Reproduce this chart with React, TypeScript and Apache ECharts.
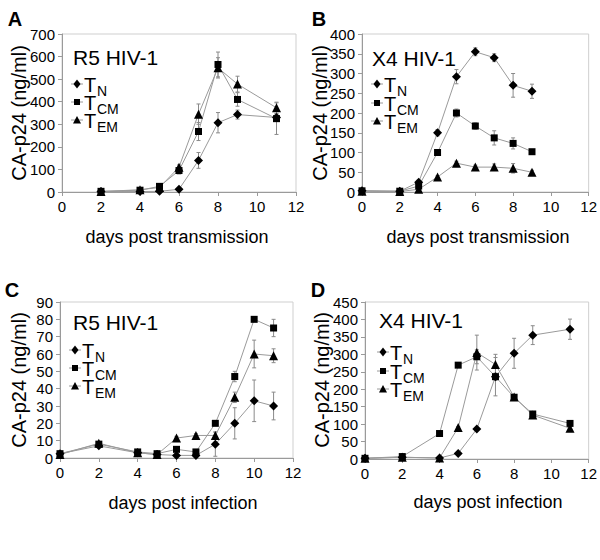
import React, { useEffect, useRef } from "react";
import * as echarts from "echarts";

const FONT = "'Liberation Sans', Arial, sans-serif";

// Panel A: R5 HIV-1, days post transmission
const A_DAYS = [2, 4, 5, 6, 7, 8, 9, 11];
const A_TN = [2, 2, 3, 12, 140, 307, 343, 330];
const A_TN_ERR = [0, 0, 0, 5, 35, 45, 20, 15];
const A_TCM = [3, 8, 25, 95, 268, 565, 410, 325];
const A_TCM_ERR = [0, 5, 10, 15, 40, 55, 30, 70];
const A_TEM = [2, 10, 20, 110, 345, 550, 478, 373];
const A_TEM_ERR = [0, 0, 5, 10, 45, 45, 35, 25];

// Panel B: X4 HIV-1, days post transmission
const B_DAYS = [0, 2, 3, 4, 5, 6, 7, 8, 9];
const B_TN = [3, 2, 25, 150, 292, 355, 340, 270, 255];
const B_TN_ERR = [0, 0, 5, 8, 18, 10, 10, 30, 18];
const B_TCM = [3, 2, 15, 100, 200, 167, 137, 123, 102];
const B_TCM_ERR = [0, 0, 3, 3, 10, 8, 18, 14, 5];
const B_TEM = [2, 1, 7, 38, 73, 63, 63, 60, 50];
const B_TEM_ERR = [0, 0, 2, 3, 5, 5, 8, 12, 5];

// Panel C: R5 HIV-1, days post infection
const C_DAYS = [0, 2, 4, 5, 6, 7, 8, 9, 10, 11];
const C_TN = [2.5, 7, 3, 2, 1.5, 1.5, 8, 20, 33, 30];
const C_TN_ERR = [0, 1, 0.5, 0.5, 0.5, 0.5, 7, 9, 12, 8];
const C_TCM = [2.5, 8, 3.5, 2.5, 5, 3.5, 20, 47, 80, 75];
const C_TCM_ERR = [0, 1, 0.5, 0.5, 1, 1, 1, 3, 0, 5];
const C_TEM = [2, 8.5, 3, 2, 11.5, 13, 13, 35, 60, 59];
const C_TEM_ERR = [0, 1, 0.5, 0.5, 1, 1, 2, 3, 8, 4];

// Panel D: X4 HIV-1, days post infection
const D_DAYS = [0, 2, 4, 5, 6, 7, 8, 9, 11];
const D_TN = [2, 5, 3, 16, 86, 236, 303, 355, 372];
const D_TN_ERR = [0, 0, 0, 2, 3, 55, 43, 27, 29];
const D_TCM = [2, 7, 73, 269, 293, 236, 177, 129, 102];
const D_TCM_ERR = [0, 0, 3, 5, 20, 10, 5, 5, 5];
const D_TEM = [2, 5, 3, 90, 305, 271, 178, 126, 88];
const D_TEM_ERR = [0, 0, 0, 3, 50, 29, 5, 5, 5];

const Y_MAX = [700, 400, 90, 450];
const Y_INT = [100, 50, 10, 50];
const X_TITLES = ["days post transmission", "days post transmission", "days post infection", "days post infection"];
const VIRUS = ["R5 HIV-1", "X4 HIV-1", "R5 HIV-1", "X4 HIV-1"];
const LETTERS = ["A", "B", "C", "D"];
const SUBS = ["N", "CM", "EM"];
const Y_TITLE = "CA-p24 (ng/ml)";

const PANELS = [
  { days: A_DAYS, s: [[A_TN, A_TN_ERR], [A_TCM, A_TCM_ERR], [A_TEM, A_TEM_ERR]] },
  { days: B_DAYS, s: [[B_TN, B_TN_ERR], [B_TCM, B_TCM_ERR], [B_TEM, B_TEM_ERR]] },
  { days: C_DAYS, s: [[C_TN, C_TN_ERR], [C_TCM, C_TCM_ERR], [C_TEM, C_TEM_ERR]] },
  { days: D_DAYS, s: [[D_TN, D_TN_ERR], [D_TCM, D_TCM_ERR], [D_TEM, D_TEM_ERR]] },
];

// layout
const GRIDS = [
  { left: 62, top: 34, width: 234, height: 158 },
  { left: 362, top: 34, width: 233, height: 158 },
  { left: 60, top: 302, width: 233, height: 156 },
  { left: 365, top: 302, width: 231, height: 157 },
];
const LETTER_POS = [[15, 19], [319, 19], [12, 290], [318, 290]];
const XT_POS = [[177, 237], [478, 237], [183, 503], [488, 502]];
const YT_POS = [[19, 113], [320, 113], [19, 380], [322, 380]];
const VIRUS_POS = [[73, 57], [372, 58], [73, 322], [379, 320]];
const LEG_POS = [
  { mx: 77, ys: [84, 102, 120] },
  { mx: 377, ys: [84, 103, 121] },
  { mx: 75, ys: [350, 368, 386] },
  { mx: 383, ys: [352, 371, 389] },
];

const SYMBOLS = ["diamond", "rect", "triangle"];
const SYM_SIZE = [9, 7, 9];
const LINE_COLOR = "#9a9a9a";
const ERR_COLOR = "#8a8a8a";

function legendMarker(k: number, x: number, y: number) {
  const st = { fill: "#000" };
  if (k === 0)
    return { type: "polygon", shape: { points: [[x, y - 4.5], [x + 3.5, y], [x, y + 4.5], [x - 3.5, y]] }, style: st };
  if (k === 1) return { type: "rect", shape: { x: x - 3, y: y - 3, width: 6, height: 6 }, style: st };
  return { type: "polygon", shape: { points: [[x, y - 4], [x + 4, y + 3.5], [x - 4, y + 3.5]] }, style: st };
}

export default function App() {
  const ref = useRef<HTMLDivElement>(null);
  useEffect(() => {
    if (!ref.current) return;
    const chart = echarts.init(ref.current, null, { renderer: "svg" });

    const grid: any[] = [];
    const xAxis: any[] = [];
    const yAxis: any[] = [];
    const series: any[] = [];
    const graphic: any[] = [];

    PANELS.forEach((p, i) => {
      grid.push({ ...GRIDS[i], show: true, borderColor: "#cfcfcf", borderWidth: 1, backgroundColor: "transparent" });
      const axisCommon = {
        axisLine: { show: true, lineStyle: { color: "#9a9a9a", width: 1 } },
        axisTick: { show: true, length: 4, lineStyle: { color: "#9a9a9a" } },
        splitLine: { show: false },
        axisLabel: { fontSize: 15, color: "#000", fontFamily: FONT, margin: 7 },
      };
      xAxis.push({ type: "value", gridIndex: i, min: 0, max: 12, interval: 2, ...axisCommon });
      yAxis.push({ type: "value", gridIndex: i, min: 0, max: Y_MAX[i], interval: Y_INT[i], ...axisCommon });

      p.s.forEach(([vals, errs], k) => {
        const errData: number[][] = [];
        p.days.forEach((d, j) => {
          if (errs[j] > 0) errData.push([d, vals[j] - errs[j], vals[j] + errs[j]]);
        });
        series.push({
          type: "custom",
          xAxisIndex: i,
          yAxisIndex: i,
          z: 1,
          data: errData,
          encode: { x: 0, y: [1, 2] },
          renderItem: (params: any, api: any) => {
            const x = api.value(0);
            const p1 = api.coord([x, api.value(2)]);
            const p2 = api.coord([x, api.value(1)]);
            const style = { stroke: ERR_COLOR, lineWidth: 1 };
            const c = 2;
            return {
              type: "group",
              children: [
                { type: "line", shape: { x1: p1[0], y1: p1[1], x2: p2[0], y2: p2[1] }, style },
                { type: "line", shape: { x1: p1[0] - c, y1: p1[1], x2: p1[0] + c, y2: p1[1] }, style },
                { type: "line", shape: { x1: p2[0] - c, y1: p2[1], x2: p2[0] + c, y2: p2[1] }, style },
              ],
            };
          },
        });
        series.push({
          type: "line",
          name: "T" + SUBS[k],
          xAxisIndex: i,
          yAxisIndex: i,
          z: 3,
          data: p.days.map((d, j) => [d, vals[j]]),
          symbol: SYMBOLS[k],
          symbolSize: SYM_SIZE[k],
          showSymbol: true,
          itemStyle: { color: "#000" },
          lineStyle: { color: LINE_COLOR, width: 1 },
        });
      });

      // panel letter
      graphic.push({
        type: "text",
        x: LETTER_POS[i][0],
        y: LETTER_POS[i][1],
        style: { text: LETTERS[i], font: `bold 20px ${FONT}`, fill: "#000", align: "center", verticalAlign: "middle" },
      });
      // x title
      graphic.push({
        type: "text",
        x: XT_POS[i][0],
        y: XT_POS[i][1],
        style: { text: X_TITLES[i], font: `18px ${FONT}`, fill: "#000", align: "center", verticalAlign: "middle" },
      });
      // y title
      graphic.push({
        type: "text",
        x: YT_POS[i][0],
        y: YT_POS[i][1],
        rotation: Math.PI / 2,
        style: { text: Y_TITLE, font: `20px ${FONT}`, fill: "#000", align: "center", verticalAlign: "middle" },
      });
      // virus annotation
      graphic.push({
        type: "text",
        x: VIRUS_POS[i][0],
        y: VIRUS_POS[i][1],
        style: { text: VIRUS[i], font: `21px ${FONT}`, fill: "#000", align: "left", verticalAlign: "middle" },
      });
      // legend
      const lg = LEG_POS[i];
      lg.ys.forEach((y, k) => {
        graphic.push({
          type: "line",
          shape: { x1: lg.mx - 6, y1: y, x2: lg.mx + 6, y2: y },
          style: { stroke: LINE_COLOR, lineWidth: 1 },
        });
        graphic.push(legendMarker(k, lg.mx, y));
        graphic.push({
          type: "text",
          x: lg.mx + 7,
          y: y + 1,
          style: { text: "T", font: `20px ${FONT}`, lineHeight: 15, fill: "#000", align: "left", verticalAlign: "middle" },
        });
        graphic.push({
          type: "text",
          x: lg.mx + 20,
          y: y + 7,
          style: { text: SUBS[k], font: `14px ${FONT}`, lineHeight: 11, fill: "#000", align: "left", verticalAlign: "middle" },
        });
      });
    });

    chart.setOption({
      animation: false,
      backgroundColor: "#fff",
      textStyle: { fontFamily: FONT },
      grid,
      xAxis,
      yAxis,
      series,
      graphic,
    });
    return () => chart.dispose();
  }, []);

  return (
    <div
      ref={ref}
      style={{ position: "fixed", left: 0, top: 0, width: 600, height: 560, background: "#fff" }}
    />
  );
}
